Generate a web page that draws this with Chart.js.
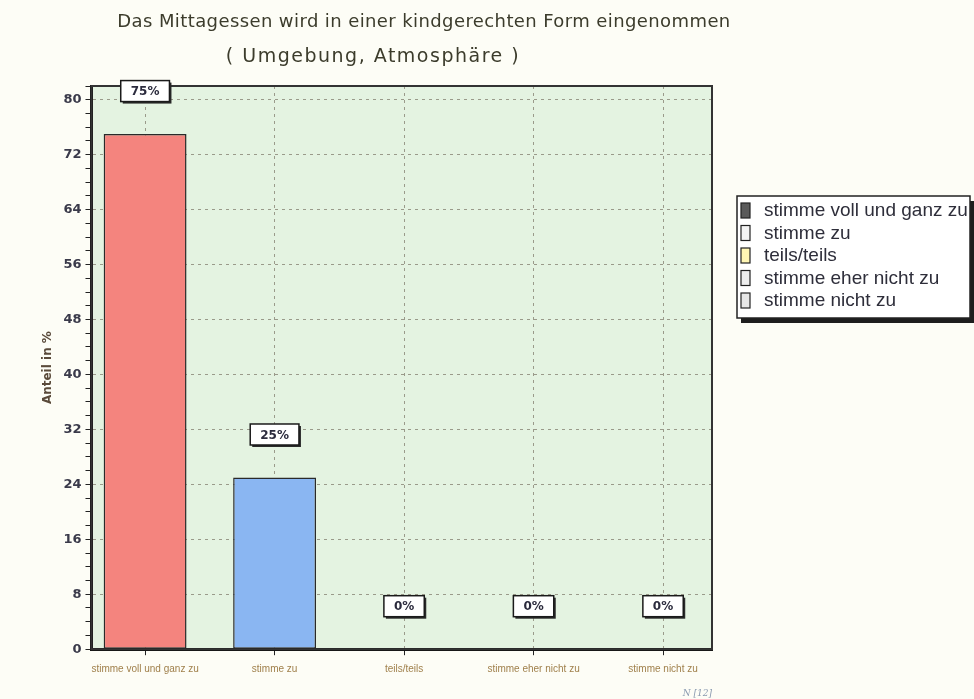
<!DOCTYPE html>
<html lang="de">
<head>
<meta charset="utf-8">
<title>Mittagessen</title>
<script src="https://cdn.jsdelivr.net/npm/chart.js@4.4.1/dist/chart.umd.min.js"></script>
<style>
  html, body { margin: 0; padding: 0; background: #fdfdf6; }
</style>
</head>
<body>
<canvas id="chart" width="974" height="699"></canvas>
<script>
// Daten
const kategorien = ['stimme voll und ganz zu', 'stimme zu', 'teils/teils', 'stimme eher nicht zu', 'stimme nicht zu'];
const anteile = [75, 25, 0, 0, 0];
const yTicks = [0, 8, 16, 24, 32, 40, 48, 56, 64, 72, 80];
const titelZeilen = ['Das Mittagessen wird in einer kindgerechten Form eingenommen', '( Umgebung, Atmosphäre )'];
const anzahl = 'N [12]';

const balkenFarben = ['#f4847e', '#8ab6f2', '#fff5a0', '#a8d890', '#c8c8c8'];
const legendenFarben = ['#5a5a5a', '#f4f4f4', '#fff6b4', '#eeeeee', '#e6e6e6'];

// Hintergrund, Plotfläche und Rahmen
const hintergrund = {
    id: 'hintergrund',
    beforeDraw(chart) {
        const ctx = chart.ctx;
        const a = chart.chartArea;
        ctx.save();
        ctx.fillStyle = '#fdfdf6';
        ctx.fillRect(0, 0, chart.width, chart.height);
        ctx.fillStyle = '#e4f3e1';
        ctx.fillRect(a.left, a.top, a.right - a.left, a.bottom - a.top);
        ctx.restore();
    },
    beforeDatasetsDraw(chart) {
        const ctx = chart.ctx;
        const a = chart.chartArea;
        ctx.save();
        ctx.strokeStyle = '#333';
        ctx.lineWidth = 2;
        ctx.strokeRect(a.left, a.top, a.right - a.left, a.bottom - a.top);
        ctx.restore();
    }
};

// Prozent-Kästchen über den Balken
const wertLabels = {
    id: 'wertLabels',
    afterDatasetsDraw(chart) {
        const ctx = chart.ctx;
        const meta = chart.getDatasetMeta(0);
        ctx.save();
        ctx.font = 'bold 12px "DejaVu Sans"';
        ctx.textAlign = 'center';
        ctx.textBaseline = 'middle';
        meta.data.forEach((bar, i) => {
            const text = anteile[i] + '%';
            const w = ctx.measureText(text).width + 20;
            const h = 21;
            const x = bar.x - w / 2;
            const y = bar.y - 43 - h / 2;
            ctx.fillStyle = '#2a2a2a';
            ctx.fillRect(x + 2, y + 2, w, h);
            ctx.fillStyle = '#ffffff';
            ctx.fillRect(x, y, w, h);
            ctx.strokeStyle = '#1a1a1a';
            ctx.lineWidth = 1.5;
            ctx.strokeRect(x, y, w, h);
            ctx.fillStyle = '#2b2b3d';
            ctx.fillText(text, bar.x, y + h / 2 + 1);
        });
        ctx.restore();
    }
};

// Titel und Legende
const titelUndLegende = {
    id: 'titelUndLegende',
    afterDraw(chart) {
        const ctx = chart.ctx;
        ctx.save();
        ctx.fillStyle = '#3c3c2c';
        ctx.textAlign = 'center';
        ctx.textBaseline = 'middle';
        ctx.font = '18px "DejaVu Sans"';
        ctx.letterSpacing = '0.4px';
        ctx.fillText(titelZeilen[0], 424, 22);
        ctx.font = '19px "DejaVu Sans"';
        ctx.letterSpacing = '1.5px';
        ctx.fillText(titelZeilen[1], 373, 57);
        ctx.letterSpacing = '0px';

        // Legendenrahmen mit Schatten
        ctx.fillStyle = '#1e1e1e';
        ctx.fillRect(741, 201, 233, 122);
        ctx.fillStyle = '#ffffff';
        ctx.fillRect(737, 196, 233, 122);
        ctx.strokeStyle = '#222';
        ctx.lineWidth = 1.5;
        ctx.strokeRect(737, 196, 233, 122);

        ctx.font = '19px "Liberation Sans"';
        ctx.textAlign = 'left';
        kategorien.forEach((k, i) => {
            const y = 210 + i * 22.5;
            ctx.fillStyle = legendenFarben[i];
            ctx.fillRect(741, y - 7, 9, 15);
            ctx.strokeStyle = '#222';
            ctx.lineWidth = 1.2;
            ctx.strokeRect(741, y - 7, 9, 15);
            ctx.fillStyle = '#2e2e3a';
            ctx.fillText(k, 764, y + 1);
        });
        ctx.restore();
    }
};

new Chart(document.getElementById('chart'), {
    type: 'bar',
    data: {
        labels: kategorien,
        datasets: [{
            data: anteile,
            backgroundColor: balkenFarben,
            borderColor: '#2a2a2a',
            borderWidth: 1.5,
            borderSkipped: false,
            barPercentage: 0.64,
            categoryPercentage: 1
        }]
    },
    options: {
        responsive: false,
        animation: false,
        layout: {
            padding: { top: 86, left: 34, right: 262, bottom: 0 }
        },
        plugins: {
            legend: { display: false },
            tooltip: { enabled: false }
        },
        scales: {
            x: {
                // Kategorien wie im Original leicht nach links verschoben
                afterUpdate(scale) {
                    scale._startValue = -0.414;
                    scale._valueRange = 4.792;
                },
                grid: {
                    offset: false,
                    color: '#9a9a8a',
                    tickColor: '#222',
                    tickLength: 6,
                    tickBorderDash: []
                },
                border: { color: '#111', width: 3, dash: [3, 4] },
                ticks: {
                    color: '#a0804c',
                    font: { family: 'Liberation Sans', size: 10 },
                    padding: 8,
                    maxRotation: 0,
                    autoSkip: false
                },
                title: {
                    display: true,
                    text: anzahl,
                    align: 'end',
                    color: '#8a9ab0',
                    font: { family: 'DejaVu Serif', size: 9, style: 'italic' },
                    padding: { top: 5, bottom: 0 }
                }
            },
            y: {
                min: 0,
                max: 82,
                grid: {
                    color: (c) => (c.tick && yTicks.includes(c.tick.value) && c.tick.value > 0) ? '#9a9a8a' : 'rgba(0,0,0,0)',
                    tickColor: '#222',
                    tickLength: 6,
                    tickBorderDash: []
                },
                border: { color: '#111', width: 3, dash: [3, 4] },
                ticks: {
                    stepSize: 2,
                    includeBounds: false,
                    autoSkip: false,
                    padding: 4,
                    color: '#3a3a4a',
                    font: { family: 'DejaVu Sans', size: 13, weight: 'bold' },
                    callback: (v) => yTicks.includes(v) ? v : ''
                },
                title: {
                    display: true,
                    text: 'Anteil in %',
                    color: '#5a4a3a',
                    font: { family: 'DejaVu Sans', size: 12, weight: 'bold' },
                    padding: { top: 7, bottom: 4 }
                }
            }
        }
    },
    plugins: [hintergrund, wertLabels, titelUndLegende]
});
</script>
</body>
</html>
